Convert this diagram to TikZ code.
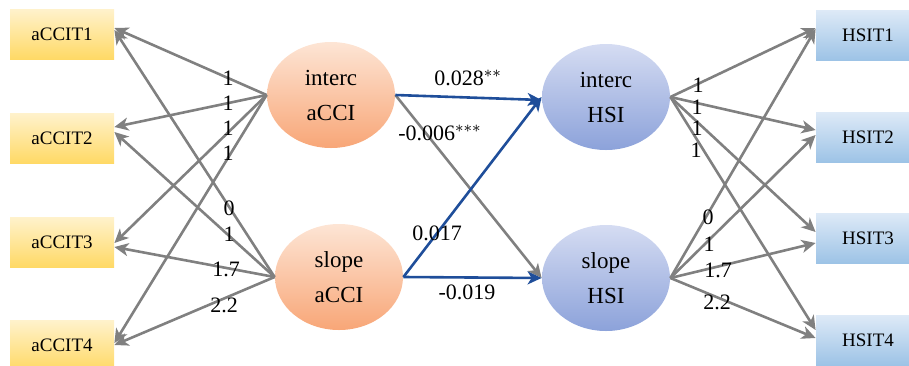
\documentclass[tikz,border=0pt]{standalone}
\usepackage{fontspec}
\setmainfont{Liberation Serif}
\usetikzlibrary{arrows.meta,shapes.geometric}

\definecolor{ybot}{HTML}{FFD966}
\definecolor{ytop}{HTML}{FFF2CC}
\definecolor{btop}{HTML}{DEEAF7}
\definecolor{bbot}{HTML}{9DC3E6}
\definecolor{otop}{HTML}{FDE5D5}
\definecolor{obot}{HTML}{F8A677}
\definecolor{ptop}{HTML}{D5DCF2}
\definecolor{pbot}{HTML}{8CA2DA}
\definecolor{pathblue}{HTML}{1F4E9A}
\definecolor{pathgray}{HTML}{808080}

\tikzset{
  itembox/.style={rectangle,minimum width=52pt,minimum height=25pt,inner sep=0pt,
    font=\fontsize{9.5}{11}\selectfont},
  ccibox/.style={itembox,top color=ytop,bottom color=ybot},
  hsibox/.style={itembox,top color=btop,bottom color=bbot},
  latent/.style={ellipse,minimum width=64pt,minimum height=53pt,inner sep=0pt,align=center,
    font=\fontsize{11.5}{17.5}\selectfont},
  load/.style={draw=pathgray,line width=1.3pt,-{Stealth[length=7pt,width=6.5pt,inset=2pt]}},
  reg/.style={draw=pathblue,line width=1.3pt,-{Stealth[length=7pt,width=6.5pt,inset=2pt]}},
  coef/.style={inner sep=0pt,font=\fontsize{11}{12}\selectfont}
}

\begin{document}
\begin{tikzpicture}[x=0.5pt,y=-0.5pt]
  \useasboundingbox (0,0) rectangle (909,365);
  % observed items
  \node[ccibox](a1)at(62,34){aCCIT1};
  \node[ccibox](a2)at(62,138){aCCIT2};
  \node[ccibox](a3)at(62,242){aCCIT3};
  \node[ccibox](a4)at(62,345){aCCIT4};
  \node[hsibox](h1)at(868,35){HSIT1};
  \node[hsibox](h2)at(868,137){HSIT2};
  \node[hsibox](h3)at(868,238){HSIT3};
  \node[hsibox](h4)at(868,340){HSIT4};
  % growth factors
  \node[latent,top color=otop,bottom color=obot](ia)at(331,95){interc\\aCCI};
  \node[latent,top color=otop,bottom color=obot](sa)at(339,277){slope\\aCCI};
  \node[latent,top color=ptop,bottom color=pbot](ih)at(606,97){interc\\HSI};
  \node[latent,top color=ptop,bottom color=pbot](sh)at(606,278){slope\\HSI};
  % loadings aCCI
  \draw[load] (ia.west) -- ([yshift=3pt]a1.east);
  \draw[load] (ia.west) -- ([yshift=5.5pt]a2.east);
  \draw[load] (ia.west) -- ([yshift=-0.5pt]a3.east);
  \draw[load] (ia.west) -- ([yshift=1pt]a4.east);
  \draw[load] (sa.west) -- ([yshift=2pt]a1.east);
  \draw[load] (sa.west) -- ([yshift=3pt]a2.east);
  \draw[load] (sa.west) -- ([yshift=-2.5pt]a3.east);
  \draw[load] (sa.west) -- (a4.east);
  % loadings HSI
  \draw[load] (ih.east) -- ([yshift=3.5pt]h1.west);
  \draw[load] (ih.east) -- ([yshift=3.5pt]h2.west);
  \draw[load] (ih.east) -- ([yshift=3pt]h3.west);
  \draw[load] (ih.east) -- ([yshift=5pt]h4.west);
  \draw[load] (sh.east) -- ([yshift=3pt]h1.west);
  \draw[load] (sh.east) -- ([yshift=1pt]h2.west);
  \draw[load] (sh.east) -- ([yshift=-2.5pt]h3.west);
  \draw[load] (sh.east) -- ([yshift=1pt]h4.west);
  % structural paths
  \draw[load] (ia.east) -- (sh.west);
  \draw[reg] (ia.east) -- ([yshift=-1.5pt]ih.west);
  \draw[reg] (sa.east) -- (ih.west);
  \draw[reg] (sa.east) -- (sh.west);
  % coefficients
  \node[coef](la1)at(228,78){1};
  \node[coef](la2)at(228,103){1};
  \node[coef](la3)at(228,128){1};
  \node[coef](la4)at(228,153){1};
  \node[coef](ls1)at(229,208){0};
  \node[coef](ls2)at(229,234){1};
  \node[coef](ls3)at(226,269){1.7};
  \node[coef](ls4)at(224,305){2.2};
  \node[coef](lh1)at(698,85){1};
  \node[coef](lh2)at(697,107){1};
  \node[coef](lh3)at(697,128){1};
  \node[coef](lh4)at(696,150){1};
  \node[coef](lk1)at(708,217){0};
  \node[coef](lk2)at(709,244){1};
  \node[coef](lk3)at(718,270){1.7};
  \node[coef](lk4)at(717,302){2.2};
  \node[coef](b1)at(468,78){0.028$^{**}$};
  \node[coef](b2)at(440,133){-0.006$^{***}$};
  \node[coef](b3)at(437,233){0.017};
  \node[coef](b4)at(467,292){-0.019};
\end{tikzpicture}
\end{document}
